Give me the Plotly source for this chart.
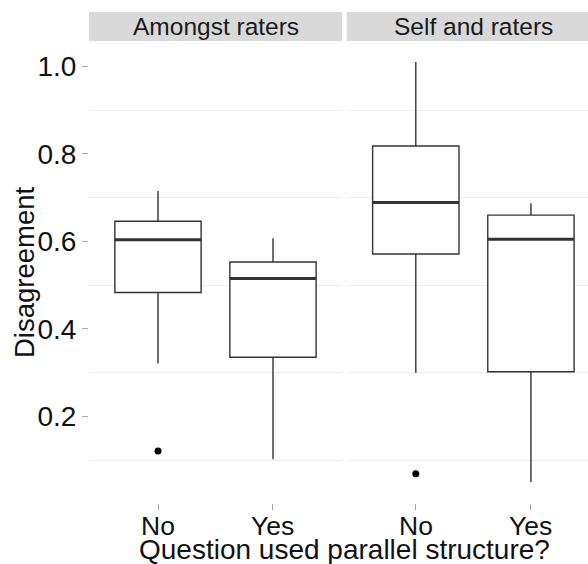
import plotly.graph_objects as go

# Facets and groups
facets = ["Amongst raters", "Self and raters"]
groups = ["No", "Yes"]
group_pos = [1, 2]

# Box summaries per facet, ordered as groups (No, Yes)
lower_whisker = {"Amongst raters": [0.321, 0.102], "Self and raters": [0.300, 0.050]}
q1 = {"Amongst raters": [0.483, 0.335], "Self and raters": [0.571, 0.302]}
median = {"Amongst raters": [0.604, 0.515], "Self and raters": [0.689, 0.605]}
q3 = {"Amongst raters": [0.646, 0.553], "Self and raters": [0.818, 0.660]}
upper_whisker = {"Amongst raters": [0.715, 0.607], "Self and raters": [1.010, 0.687]}

# Outlying points: (group position, value)
outlier_x = {"Amongst raters": [1], "Self and raters": [1]}
outlier_y = {"Amongst raters": [0.121], "Self and raters": [0.069]}

y_ticks = [0.2, 0.4, 0.6, 0.8, 1.0]
y_minor = [0.1, 0.3, 0.5, 0.7, 0.9]

BOX_W = 0.75
LINE = "#333333"
FONT = "Liberation Sans, Arial, sans-serif"
PLOT_H = 462  # plotting area height in px (564 - margins)

fig = go.Figure()

for i, facet in enumerate(facets):
    xa = "x" if i == 0 else "x2"
    ya = "y" if i == 0 else "y2"
    fig.add_trace(go.Box(
        x=group_pos,
        q1=q1[facet], median=median[facet], q3=q3[facet],
        lowerfence=lower_whisker[facet], upperfence=upper_whisker[facet],
        width=BOX_W, whiskerwidth=0,
        fillcolor="white", line=dict(color=LINE, width=1.4),
        boxpoints=False, hoverinfo="skip", showlegend=False,
        xaxis=xa, yaxis=ya,
    ))
    # thicker median bars
    for p, m in zip(group_pos, median[facet]):
        fig.add_trace(go.Scatter(
            x=[p - BOX_W / 2, p + BOX_W / 2], y=[m, m], mode="lines",
            line=dict(color=LINE, width=3), showlegend=False,
            hoverinfo="skip", xaxis=xa, yaxis=ya,
        ))
    fig.add_trace(go.Scatter(
        x=outlier_x[facet], y=outlier_y[facet], mode="markers",
        marker=dict(color="black", size=7), showlegend=False,
        hoverinfo="skip", xaxis=xa, yaxis=ya,
    ))
    # category labels under each panel
    for p, g in zip(group_pos, groups):
        fig.add_annotation(
            text=g, xref=xa, x=p, yref="paper", y=-(526 - 503) / PLOT_H,
            yanchor="middle", xanchor="center", showarrow=False,
            font=dict(family=FONT, size=26.5, color="#111111"),
        )

x_common = dict(
    tickmode="array", tickvals=group_pos, showticklabels=False,
    ticks="outside", ticklen=6, tickcolor="#a6a6a6", tickwidth=1,
    showgrid=False, zeroline=False, showline=False, fixedrange=True,
)
y_common = dict(
    range=[0.002, 1.058], tickmode="array", tickvals=y_ticks,
    showgrid=False, zeroline=False, showline=False,
    minor=dict(tickmode="array", tickvals=y_minor, showgrid=True,
               gridcolor="#eeeeee", gridwidth=1, ticks=""),
)

fig.update_layout(
    width=588, height=564,
    margin=dict(l=89, r=0, t=41, b=61),
    paper_bgcolor="white", plot_bgcolor="white",
    xaxis=dict(domain=[0, 0.507], range=[0.4, 2.6], anchor="y", **x_common),
    xaxis2=dict(domain=[0.5165, 1], range=[0.4, 2.4957], anchor="y2", **x_common),
    yaxis=dict(anchor="x", ticks="outside", ticklen=6, tickcolor="#a6a6a6",
               tickformat=".1f",
               tickfont=dict(family=FONT, size=28, color="#111111"),
               **y_common),
    yaxis2=dict(anchor="x2", matches="y", showticklabels=False, ticks="",
                **y_common),
)

# facet strips
strip_top = 1 + 29 / PLOT_H
strip_x = [(0, 0.507), (0.5165, 1.0)]
for i, facet in enumerate(facets):
    fig.add_shape(type="rect", xref="paper", yref="paper",
                  x0=strip_x[i][0], x1=strip_x[i][1],
                  y0=1, y1=strip_top, fillcolor="#d9d9d9", line_width=0,
                  layer="below")
    fig.add_annotation(
        text=facet, xref="x" if i == 0 else "x2", x=1.5,
        yref="paper", y=(1 + strip_top) / 2, yanchor="middle",
        showarrow=False,
        font=dict(family=FONT, size=24.5, color="#1a1a1a"),
    )

# axis titles
fig.add_annotation(
    text="Question used parallel structure?", xref="paper", x=0.513,
    yref="paper", y=-(549 - 503) / PLOT_H, yanchor="middle", xanchor="center",
    showarrow=False, font=dict(family=FONT, size=28, color="#111111"),
)
fig.add_annotation(
    text="Disagreement", textangle=-90, xref="paper", x=(24 - 89) / 499,
    xanchor="center", yref="paper", y=0.5, yanchor="middle",
    showarrow=False, font=dict(family=FONT, size=27.5, color="#111111"),
)

fig.write_html("out.html")
